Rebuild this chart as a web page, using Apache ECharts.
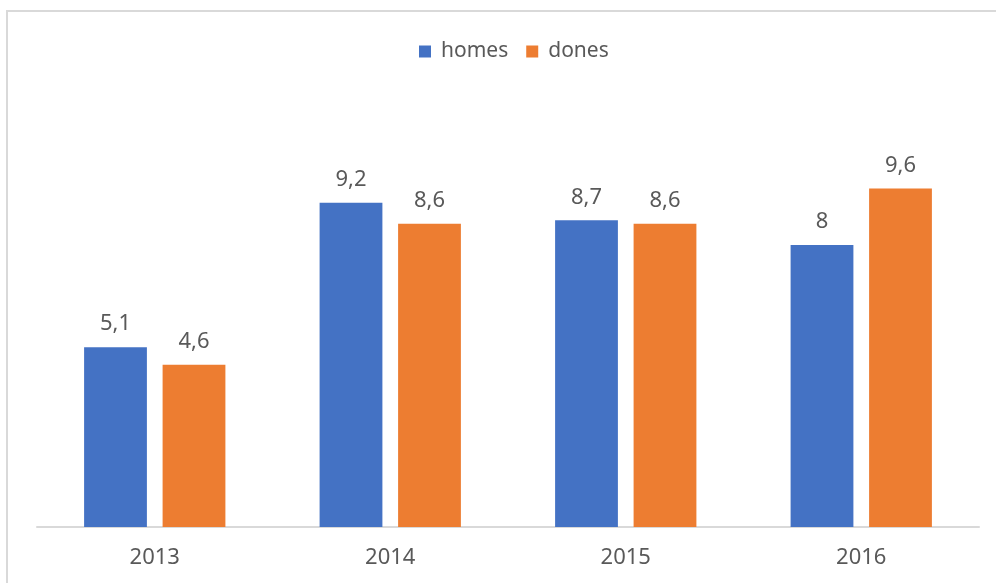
<!DOCTYPE html>
<html>
<head>
<meta charset="utf-8">
<script src="https://cdn.jsdelivr.net/npm/echarts@6/dist/echarts.min.js"></script>
<style>
  html, body { margin: 0; padding: 0; background: #fff; }
  #chart { width: 996px; height: 583px; }
</style>
</head>
<body>
<div id="chart"></div>
<script>
// Yearly values for the two groups
const years = ['2013', '2014', '2015', '2016'];
const homes = [5.1, 9.2, 8.7, 8.0];
const dones = [4.6, 8.6, 8.6, 9.6];

const FONT = '"Noto Sans", "Liberation Sans", sans-serif';
const TEXT = '#595959';

const chart = echarts.init(document.getElementById('chart'), null, { renderer: 'canvas' });

// Decimal comma, whole numbers without decimals
const fmt = n => Number.isInteger(n) ? String(n) : String(n).replace('.', ',');

const labelStyle = {
  show: true,
  position: 'top',
  distance: 12,
  color: TEXT,
  fontFamily: FONT,
  fontSize: 22,
  formatter: p => fmt(p.value)
};

chart.setOption({
  animation: false,
  backgroundColor: '#fff',
  graphic: [{
    type: 'rect',
    shape: { x: 7, y: 11, width: 1000, height: 600 },
    style: { fill: 'none', stroke: '#d9d9d9', lineWidth: 2 },
    silent: true
  }],
  legend: {
    top: 36,
    left: 414,
    itemWidth: 12,
    itemHeight: 12,
    itemGap: 18,
    icon: 'rect',
    textStyle: { color: TEXT, fontFamily: FONT, fontSize: 21, padding: [0, 0, 0, 5] }
  },
  grid: { left: 37, right: 17, top: 104, bottom: 56 },
  xAxis: {
    type: 'category',
    data: years,
    axisTick: { show: false },
    axisLine: { lineStyle: { color: '#d9d9d9', width: 2 } },
    axisLabel: { color: TEXT, fontFamily: FONT, fontSize: 22, margin: 20 }
  },
  yAxis: {
    type: 'value',
    min: 0,
    max: 12,
    interval: 2,
    show: false,
    splitLine: { show: false }
  },
  series: [
    {
      name: 'homes',
      type: 'bar',
      data: homes,
      barGap: '25%',
      barCategoryGap: '40%',
      itemStyle: { color: '#4472C4' },
      label: labelStyle
    },
    {
      name: 'dones',
      type: 'bar',
      data: dones,
      barGap: '25%',
      barCategoryGap: '40%',
      itemStyle: { color: '#ED7D31' },
      label: labelStyle
    }
  ]
});
</script>
</body>
</html>
